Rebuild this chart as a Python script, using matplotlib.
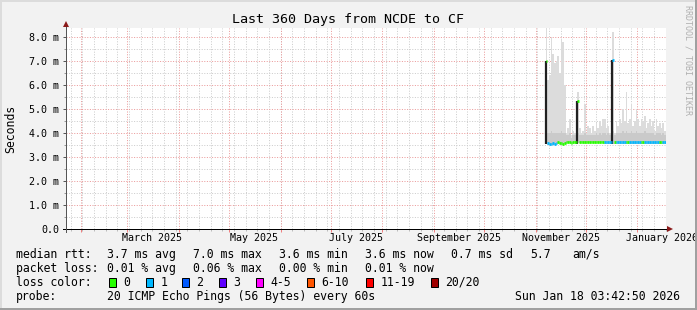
from datetime import datetime, timedelta

import matplotlib
matplotlib.use('Agg')
from matplotlib import pyplot as plt
from matplotlib import dates as mdates
from matplotlib import transforms
from matplotlib.lines import Line2D
from matplotlib.patches import Rectangle


W, H = 697, 310
FONT = 'DejaVu Sans Mono'

TITLE = 'Last 360 Days from NCDE to CF'
END_TIME = datetime(2026, 1, 18, 3, 42, 50)
SPAN_DAYS = 360
FIRST_DAY = datetime(2025, 11, 7)

# one value per day from FIRST_DAY on, in milliseconds
smoke_max = [8.5, 6.2, 6.4, 8.0, 7.3, 6.9, 7.0, 7.2, 6.5, 7.9, 7.8, 6.0,
             4.0, 4.2, 4.6, 3.9, 4.1, 4.0, 4.3, 5.7, 4.2, 4.0, 4.1, 5.2,
             4.0, 4.3, 4.2, 4.0, 4.3, 4.1, 4.4, 4.2, 4.5, 4.3, 4.6, 4.6,
             4.2, 4.3, 4.0, 4.1, 8.2, 4.0, 4.5, 4.3, 4.6, 4.4, 5.0, 4.5,
             5.7, 4.4, 4.6, 5.2, 4.3, 4.5, 5.0, 4.6, 4.3, 4.6, 4.5, 4.7,
             4.2, 4.4, 4.6, 4.3, 4.5, 4.1, 4.6, 4.3, 4.4, 4.2, 4.4, 4.1]
smoke_dense = [4.1, 4.0, 4.0, 4.1, 4.0, 4.0, 4.0, 4.0, 4.0, 4.1, 4.0, 4.0,
               3.9, 3.9, 4.0, 3.8, 3.9, 3.9, 3.9, 4.0, 3.9, 3.9, 3.9, 4.0,
               3.9, 3.9, 3.9, 3.9, 3.9, 3.9, 4.0, 3.9, 4.0, 3.9, 4.0, 4.0,
               3.9, 4.0, 3.9, 3.9, 4.1, 3.9, 4.0, 4.0, 4.0, 4.0, 4.1, 4.0,
               4.1, 4.0, 4.0, 4.1, 4.0, 4.0, 4.1, 4.0, 4.0, 4.0, 4.0, 4.1,
               4.0, 4.0, 4.0, 4.0, 4.0, 3.9, 4.0, 4.0, 4.0, 3.9, 4.0, 3.9]
smoke_min = [3.55, 3.50, 3.50, 3.50, 3.52, 3.50, 3.52, 3.55, 3.55, 3.52, 3.50, 3.55,
             3.55, 3.57, 3.57, 3.55, 3.57, 3.57, 3.57, 3.57, 3.57, 3.57, 3.57, 3.57,
             3.57, 3.57, 3.57, 3.57, 3.57, 3.57, 3.57, 3.57, 3.57, 3.57, 3.57, 3.55,
             3.55, 3.55, 3.55, 3.55, 3.55, 3.55, 3.55, 3.55, 3.55, 3.55, 3.55, 3.55,
             3.55, 3.55, 3.55, 3.55, 3.55, 3.55, 3.55, 3.55, 3.55, 3.55, 3.55, 3.55,
             3.55, 3.55, 3.55, 3.55, 3.55, 3.55, 3.55, 3.55, 3.55, 3.55, 3.55, 3.55]
median_rtt = [7.00, 3.57, 3.55, 3.56, 3.58, 3.55, 3.57, 3.62, 3.60, 3.58, 3.55, 3.60,
              3.62, 3.63, 3.62, 3.60, 3.63, 3.62, 3.63, 5.35, 3.63, 3.63, 3.62, 3.63,
              3.63, 3.62, 3.63, 3.63, 3.63, 3.62, 3.63, 3.63, 3.63, 3.63, 3.63, 3.62,
              3.62, 3.62, 3.62, 3.62, 7.05, 3.63, 3.62, 3.62, 3.62, 3.62, 3.62, 3.62,
              3.63, 3.63, 3.62, 3.62, 3.62, 3.62, 3.62, 3.62, 3.62, 3.63, 3.63, 3.62,
              3.62, 3.62, 3.62, 3.62, 3.62, 3.62, 3.62, 3.62, 3.63, 3.63, 3.62, 3.62]
loss_bucket = [0, 1, 1, 1, 1, 1, 1, 0, 0, 0, 0, 0,
               0, 0, 0, 0, 0, 0, 0, 0, 0, 0, 0, 0,
               0, 0, 0, 0, 0, 0, 0, 0, 0, 0, 0, 1,
               1, 1, 1, 1, 1, 0, 1, 1, 1, 1, 1, 1,
               0, 0, 1, 1, 1, 1, 1, 1, 1, 0, 0, 1,
               1, 1, 1, 1, 1, 1, 1, 1, 0, 0, 1, 1]

y_ticks = [0, 1, 2, 3, 4, 5, 6, 7, 8]
y_top = 8.38

month_labels = ['March 2025', 'May 2025', 'July 2025', 'September 2025',
                'November 2025', 'January 2026']
month_label_days = [datetime(2025, 3, 16), datetime(2025, 5, 16), datetime(2025, 7, 16),
                    datetime(2025, 9, 16), datetime(2025, 11, 16), datetime(2026, 1, 16)]

loss_labels = ['0', '1', '2', '3', '4-5', '6-10', '11-19', '20/20']
loss_colors = ['#26ff00', '#00b8ff', '#0059ff', '#5e00ff', '#ff00ff', '#ff5500', '#ff0000', '#a00000']
loss_box_x = [109, 146, 182, 219, 256, 307, 366, 431]

rtt_row = [('median rtt:', 16), ('3.7 ms avg', 107), ('7.0 ms max', 193),
           ('3.6 ms min', 279), ('3.6 ms now', 365), ('0.7 ms sd', 451),
           ('5.7', 530), ('am/s', 572)]
loss_row = [('packet loss:', 16), ('0.01 % avg', 107), ('0.06 % max', 193),
            ('0.00 % min', 279), ('0.01 % now', 365)]
probe_text = '20 ICMP Echo Pings (56 Bytes) every 60s'
stamp_text = 'Sun Jan 18 03:42:50 2026'


def fx(x):
    return x / W


def fy(y):
    return 1 - y / H


def main():
    fig = plt.figure(figsize=(W / 100, H / 100), dpi=100)
    fig.patch.set_facecolor('#f2f2f2')

    ax = fig.add_axes([fx(66), fy(229), 600 / W, 201 / H])
    ax.set_facecolor('white')

    start = END_TIME - timedelta(days=SPAN_DAYS)
    x0 = mdates.date2num(start)
    x1 = mdates.date2num(END_TIME)
    ax.set_xlim(x0, x1)
    ax.set_ylim(0, y_top)

    # grid: weekly / half-ms in grey, months / ms in red
    months = []
    d = datetime(start.year, start.month, 1)
    while d <= END_TIME:
        if d >= start:
            months.append(mdates.date2num(d))
        d = datetime(d.year + (d.month // 12), d.month % 12 + 1, 1)
    weeks = []
    d = datetime(2025, 1, 26)
    while d <= END_TIME:
        weeks.append(mdates.date2num(d))
        d += timedelta(days=7)

    minor_style = dict(color='#cccccc', linewidth=0.72, linestyle=(0, (1, 1.6)), zorder=0)
    major_style = dict(color='#eb9a9a', linewidth=0.72, linestyle=(0, (1, 1.6)), zorder=0)
    for w in weeks:
        ax.axvline(w, **minor_style)
    for v in [0.5 + i for i in range(8)]:
        ax.axhline(v, **minor_style)
    for m in months:
        ax.axvline(m, **major_style)
    for v in y_ticks[1:]:
        ax.axhline(v, **major_style)

    # smokeping data
    days = [mdates.date2num(FIRST_DAY + timedelta(days=i)) for i in range(len(smoke_max))]
    ax.bar(days, [t - b for t, b in zip(smoke_max, smoke_min)], bottom=smoke_min,
           width=1.0, align='edge', color='#dcdcdc', linewidth=0, zorder=2)
    ax.bar(days, [t - b for t, b in zip(smoke_dense, smoke_min)], bottom=smoke_min,
           width=1.0, align='edge', color='#cacaca', linewidth=0, zorder=2)

    base = min(median_rtt)
    for day, med in zip(days, median_rtt):
        if med > 5:
            ax.vlines(day, base, med, color='#202020', linewidth=1.6, zorder=3)
    ax.hlines(median_rtt, days, [d + 1 for d in days],
              colors=[loss_colors[b] for b in loss_bucket], linewidth=2.0, zorder=4)

    # axes and ticks
    for side in ['top', 'right', 'left', 'bottom']:
        ax.spines[side].set_visible(False)

    ax.set_yticks(y_ticks)
    ax.set_yticklabels(['0.0'] + [f'{v:.1f} m' for v in y_ticks[1:]])
    ax.set_yticks([0.5 + i for i in range(8)], minor=True)
    ax.tick_params(axis='y', which='major', length=2.5, width=0.72, color='#555555',
                   pad=2.5, labelsize=7.2)
    ax.tick_params(axis='y', which='minor', length=1.5, width=0.72, color='#999999')

    ax.set_xticks(months)
    ax.set_xticklabels([])
    ax.set_xticks(weeks, minor=True)
    ax.tick_params(axis='x', which='major', length=2.5, width=0.72, color='#f08080')
    ax.tick_params(axis='x', which='minor', length=1.5, width=0.72, color='#bbbbbb')
    for lab in ax.get_yticklabels():
        lab.set_family(FONT)

    trans = transforms.blended_transform_factory(ax.transData, ax.transAxes)
    for label, day in zip(month_labels, month_label_days):
        ax.text(mdates.date2num(day), -0.043, label, transform=trans, ha='center',
                va='center', fontsize=7.2, family=FONT)

    # axis lines with arrows
    fig.add_artist(Line2D([fx(63), fx(668)], [fy(229), fy(229)], color='black', linewidth=0.72))
    fig.add_artist(Line2D([fx(66), fx(66)], [fy(232), fy(26)], color='#555555', linewidth=0.72))
    fig.add_artist(Line2D([fx(670)], [fy(229)], marker='>', markersize=4.5, color='#8b1a1a',
                          markeredgewidth=0))
    fig.add_artist(Line2D([fx(66)], [fy(24)], marker='^', markersize=4.5, color='#8b1a1a',
                          markeredgewidth=0))

    # texts
    fig.text(fx(348.5), fy(20), TITLE, ha='center', va='center', fontsize=9.6, family=FONT)
    fig.text(fx(10.5), fy(128.5), 'Seconds', rotation=90, ha='center', va='center',
             fontsize=8.3, family=FONT)
    fig.text(fx(688), fy(60), 'RRDTOOL / TOBI OETIKER', rotation=270, ha='center',
             va='center', fontsize=6, family=FONT, color='#b0b0b0')

    for text, x in rtt_row:
        fig.text(fx(x), fy(254.3), text, ha='left', va='center', fontsize=8.3, family=FONT)
    for text, x in loss_row:
        fig.text(fx(x), fy(268.3), text, ha='left', va='center', fontsize=8.3, family=FONT)
    fig.text(fx(16), fy(282.3), 'loss color:', ha='left', va='center', fontsize=8.3, family=FONT)
    for label, color, x in zip(loss_labels, loss_colors, loss_box_x):
        fig.add_artist(Rectangle((fx(x), fy(286.5)), 7 / W, 8.5 / H, facecolor=color,
                                 edgecolor='black', linewidth=0.72))
        fig.text(fx(x + 14.5), fy(282.3), label, ha='left', va='center', fontsize=8.3,
                 family=FONT)
    fig.text(fx(16), fy(296.3), 'probe:', ha='left', va='center', fontsize=8.3, family=FONT)
    fig.text(fx(107), fy(296.3), probe_text, ha='left', va='center', fontsize=8.3, family=FONT)
    fig.text(fx(680), fy(296.3), stamp_text, ha='right', va='center', fontsize=8.3, family=FONT)

    # 3d frame around the image
    fig.add_artist(Line2D([fx(0), fx(697)], [fy(0.5), fy(0.5)], color='#dcdcdc', linewidth=1.44))
    fig.add_artist(Line2D([fx(0.5), fx(0.5)], [fy(0), fy(310)], color='#dcdcdc', linewidth=1.44))
    fig.add_artist(Line2D([fx(696), fx(696)], [fy(0), fy(310)], color='#a0a0a0', linewidth=1.44))
    fig.add_artist(Line2D([fx(0), fx(697)], [fy(309), fy(309)], color='#a0a0a0', linewidth=1.44))

    fig.savefig('out.png', dpi=100)
    plt.close(fig)


if __name__ == '__main__':
    main()
